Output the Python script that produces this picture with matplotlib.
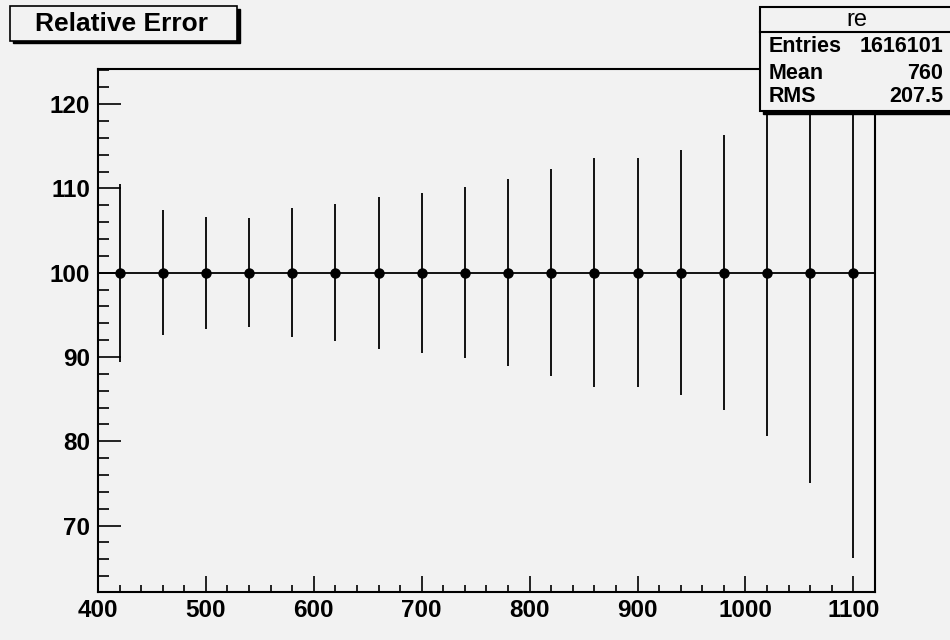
import numpy as np
import matplotlib
matplotlib.use("Agg")
import matplotlib.pyplot as plt
from matplotlib.patches import Rectangle
from matplotlib.lines import Line2D
from matplotlib.ticker import MultipleLocator

plt.rcParams["font.family"] = ["Liberation Sans", "DejaVu Sans"]

# histogram "re" : bin centres, contents and errors
bin_centers = [420, 460, 500, 540, 580, 620, 660, 700, 740,
               780, 820, 860, 900, 940, 980, 1020, 1060, 1100]
bin_values = [100, 100, 100, 100, 100, 100, 100, 100, 100,
              100, 100, 100, 100, 100, 100, 100, 100, 100]
bin_errors = [10.55, 7.45, 6.65, 6.5, 7.65, 8.1, 9.0, 9.5, 10.15,
              11.1, 12.3, 13.55, 13.6, 14.5, 16.3, 19.4, 25.0, 33.8]
bin_width = 40

title = "Relative Error"
stats_name = "re"
stats_rows = [("Entries", "1616101"), ("Mean", "760"), ("RMS", "207.5")]

W, H = 950, 640
bg = "#f2f2f2"


def fx(px):
    return px / W


def fy(py):
    return 1 - py / H


fig = plt.figure(figsize=(W / 100, H / 100), dpi=100, facecolor=bg)
ax = fig.add_axes([fx(98), fy(591.7), fx(875 - 98), (591.7 - 69) / H])
ax.set_facecolor(bg)

ax.errorbar(bin_centers, bin_values, yerr=bin_errors,
            xerr=[bin_width / 2] * len(bin_centers),
            fmt="o", color="black", ms=6.5, elinewidth=1.3, capsize=0)

ax.set_xlim(400, 1120)
ax.set_ylim(62.16, 124.16)

ax.xaxis.set_major_locator(MultipleLocator(100))
ax.xaxis.set_minor_locator(MultipleLocator(20))
ax.yaxis.set_major_locator(MultipleLocator(10))
ax.yaxis.set_minor_locator(MultipleLocator(2))

ax.tick_params(axis="both", which="both", direction="in", top=False, right=False,
               width=1.2, color="black")
ax.tick_params(axis="x", which="major", length=11.3, pad=5.5)
ax.tick_params(axis="x", which="minor", length=5.3)
ax.tick_params(axis="y", which="major", length=16.3, pad=5.5)
ax.tick_params(axis="y", which="minor", length=7.9)
for lab in ax.get_xticklabels() + ax.get_yticklabels():
    lab.set_fontsize(17.5)
    lab.set_fontweight("bold")

for s in ax.spines.values():
    s.set_linewidth(1.5)

# title box with shadow
fig.add_artist(Rectangle((fx(12.5), fy(43.2)), fx(227), 34.7 / H,
                         transform=fig.transFigure, facecolor="black",
                         edgecolor="black", zorder=5))
fig.add_artist(Rectangle((fx(10), fy(40.7)), fx(227), 34.7 / H,
                         transform=fig.transFigure, facecolor=bg,
                         edgecolor="black", lw=1.2, zorder=6))
fig.text(fx(121.5), fy(24), title, fontsize=19, fontweight="bold",
         ha="center", va="center", zorder=7)

# stats box with shadow
fig.add_artist(Rectangle((fx(762.5), fy(113.5)), fx(200), 104.3 / H,
                         transform=fig.transFigure, facecolor="black",
                         edgecolor="black", zorder=5))
fig.add_artist(Rectangle((fx(760), fy(111)), fx(200), 104.3 / H,
                         transform=fig.transFigure, facecolor=bg,
                         edgecolor="black", lw=1.5, zorder=6))
fig.add_artist(Line2D([fx(760), fx(950)], [fy(32.3), fy(32.3)],
                      transform=fig.transFigure, color="black", lw=1.5, zorder=7))
fig.text(fx(857), fy(19.5), stats_name, fontsize=17,
         ha="center", va="center", zorder=8)
row_y = [47, 73.5, 96.5]
for (name, val), yy in zip(stats_rows, row_y):
    fig.text(fx(769), fy(yy), name, fontsize=15.5, fontweight="bold",
             ha="left", va="center", zorder=8)
    fig.text(fx(943), fy(yy), val, fontsize=15.5, fontweight="bold",
             ha="right", va="center", zorder=8)

fig.savefig("out.png", dpi=100, facecolor=bg)
